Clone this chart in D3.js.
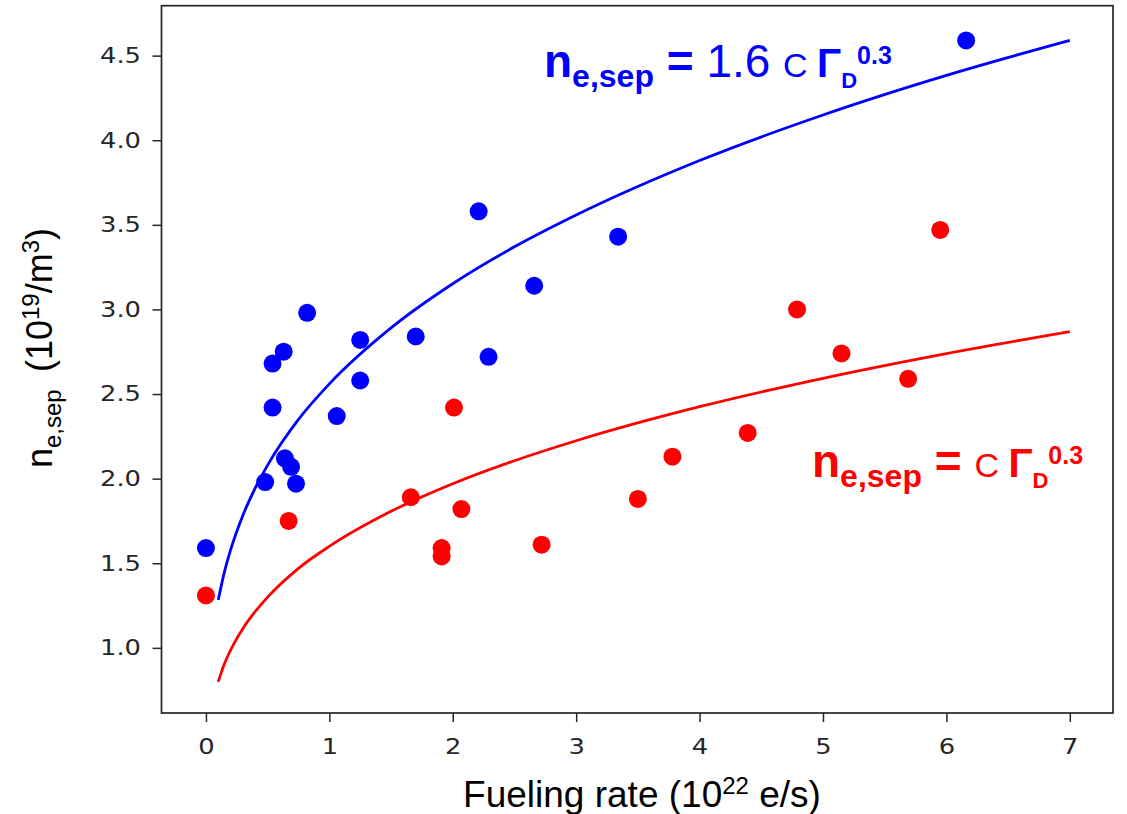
<!DOCTYPE html>
<html>
<head>
<meta charset="utf-8">
<script src="https://cdn.jsdelivr.net/npm/d3@7"></script>
<style>
  html, body { margin: 0; padding: 0; background: #fff; }
  svg { display: block; }
</style>
</head>
<body>
<div id="chart"></div>
<script>
// measured points (10^22 e/s, 10^19 m^-3)
const blue_x = [0.00, 6.16, 2.21, 3.34, 2.66, 0.82, 1.70, 1.25, 2.29, 0.63, 0.54, 1.25, 0.54, 1.06, 0.64, 0.69, 0.48, 0.73];
const blue_y = [1.59, 4.59, 3.58, 3.43, 3.14, 2.98, 2.84, 2.82, 2.72, 2.75, 2.68, 2.58, 2.42, 2.37, 2.12, 2.07, 1.98, 1.97];
const red_x = [0.00, 0.67, 1.66, 1.91, 1.91, 2.01, 2.07, 2.72, 3.50, 3.78, 4.39, 4.79, 5.15, 5.69, 5.95];
const red_y = [1.31, 1.75, 1.89, 1.59, 1.54, 2.42, 1.82, 1.61, 1.88, 2.13, 2.27, 3.00, 2.74, 2.59, 3.47];

// fit curves
const fit_x = [0.1, 0.15, 0.2, 0.3, 0.4, 0.5, 0.75, 1, 1.5, 2, 2.5, 3, 4, 5, 6, 7];
const fit_red = [0.80, 0.906, 0.987, 1.115, 1.215, 1.30, 1.47, 1.60, 1.807, 1.97, 2.106, 2.224, 2.425, 2.593, 2.739, 2.869];
const fit_blue = [1.283, 1.449, 1.579, 1.784, 1.945, 2.08, 2.35, 2.56, 2.891, 3.152, 3.37, 3.558, 3.88, 4.149, 4.383, 4.59];

const x_ticks = [0, 1, 2, 3, 4, 5, 6, 7];
const y_ticks = [1.0, 1.5, 2.0, 2.5, 3.0, 3.5, 4.0, 4.5];

const BLUE = '#0000ff';
const RED = '#ff0000';
const INK = '#262626';
const WIDTH = 1127;
const HEIGHT = 814;
const plot = { left: 161.5, right: 1113, top: 5.7, bottom: 713 };
const TICK_STRETCH = 1.2;

let svg = d3.select('#chart').append('svg')
  .attr('width', WIDTH)
  .attr('height', HEIGHT);

let x = d3.scaleLinear().domain([-0.36, 7.35]).range([plot.left, plot.right]);
let y = d3.scaleLinear().domain([0.615, 4.795]).range([plot.bottom, plot.top]);

// axes
let x_axis = svg.append('g')
  .attr('transform', `translate(0, ${plot.bottom})`)
  .call(d3.axisBottom(x).tickValues(x_ticks).tickSize(9).tickFormat(d3.format('d')));
x_axis.selectAll('text')
  .attr('y', 0)
  .attr('dy', null)
  .attr('transform', `translate(0, 41) scale(${TICK_STRETCH}, 1)`);

let y_axis = svg.append('g')
  .attr('transform', `translate(${plot.left}, 0)`)
  .call(d3.axisLeft(y).tickValues(y_ticks).tickSize(9).tickFormat(d3.format('.1f')));
y_axis.selectAll('text')
  .attr('x', 0)
  .attr('transform', `translate(-20.5, 0) scale(${TICK_STRETCH}, 1)`);

svg.selectAll('.tick text')
  .style('font-family', '"DejaVu Sans", sans-serif')
  .style('font-size', '21.5px')
  .attr('fill', INK);
svg.selectAll('.tick line').attr('stroke', INK).attr('stroke-width', 1.5);
svg.selectAll('.domain').remove();

svg.append('rect')
  .attr('x', plot.left)
  .attr('y', plot.top)
  .attr('width', plot.right - plot.left)
  .attr('height', plot.bottom - plot.top)
  .attr('fill', 'none')
  .attr('stroke', INK)
  .attr('stroke-width', 1.7);

// fits
let line = (ys) => d3.line()
  .x((d, i) => x(fit_x[i]))
  .y((d) => y(d))
  .curve(d3.curveMonotoneX)(ys);

svg.append('path')
  .attr('d', line(fit_blue))
  .attr('fill', 'none')
  .attr('stroke', BLUE)
  .attr('stroke-width', 2.8);
svg.append('path')
  .attr('d', line(fit_red))
  .attr('fill', 'none')
  .attr('stroke', RED)
  .attr('stroke-width', 2.8);

// points
svg.append('g').selectAll('circle')
  .data(d3.zip(blue_x, blue_y))
  .enter().append('circle')
  .attr('cx', (d) => x(d[0]))
  .attr('cy', (d) => y(d[1]))
  .attr('r', 9)
  .attr('fill', BLUE);
svg.append('g').selectAll('circle')
  .data(d3.zip(red_x, red_y))
  .enter().append('circle')
  .attr('cx', (d) => x(d[0]))
  .attr('cy', (d) => y(d[1]))
  .attr('r', 9)
  .attr('fill', RED);

// axis titles
let ARIAL = '"Liberation Sans", Arial, sans-serif';

let xl = svg.append('text')
  .attr('x', 642)
  .attr('y', 807)
  .attr('text-anchor', 'middle')
  .style('font-family', ARIAL)
  .style('font-size', '37px')
  .attr('fill', '#000');
xl.append('tspan').text('Fueling rate (10');
xl.append('tspan').attr('dy', -13).style('font-size', '24px').text('22');
xl.append('tspan').attr('dy', 13).text(' e/s)');

let yl = svg.append('text')
  .attr('transform', 'translate(52, 348) rotate(-90)')
  .attr('text-anchor', 'middle')
  .style('font-family', ARIAL)
  .style('font-size', '36px')
  .attr('fill', '#000');
yl.append('tspan').text('n');
yl.append('tspan').attr('dy', 9).style('font-size', '24px').text('e,sep');
yl.append('tspan').attr('dy', -9).text('\u2009 (10');
yl.append('tspan').attr('dy', -13).style('font-size', '24px').text('19');
yl.append('tspan').attr('dy', 13).text('/m');
yl.append('tspan').attr('dy', -13).style('font-size', '24px').text('3');
yl.append('tspan').attr('dy', 13).text(')');

// fit annotations
let annotate = (x0, y0, color, coef) => {
  let t = svg.append('text')
    .attr('x', x0)
    .attr('y', y0)
    .style('font-family', ARIAL)
    .attr('fill', color);
  t.append('tspan').style('font-size', '46px').style('font-weight', 'bold').text('n');
  t.append('tspan').attr('dy', 10).style('font-size', '32px').style('font-weight', 'bold').text('e,sep');
  t.append('tspan').attr('dy', -10).style('font-size', '46px').style('font-weight', 'bold').text(' = ');
  if (coef) {
    t.append('tspan').style('font-size', '46px').text(coef + ' ');
  }
  t.append('tspan').style('font-size', '34px').text('C ');
  t.append('tspan').style('font-size', '40px').style('font-weight', 'bold').text('\u0393');
  t.append('tspan').attr('dy', 11).style('font-size', '22px').style('font-weight', 'bold').text('D');
  t.append('tspan').attr('dy', -24).style('font-size', '25px').style('font-weight', 'bold').text('0.3');
};

annotate(544, 77, BLUE, '1.6');
annotate(812, 477, RED, null);
</script>
</body>
</html>
